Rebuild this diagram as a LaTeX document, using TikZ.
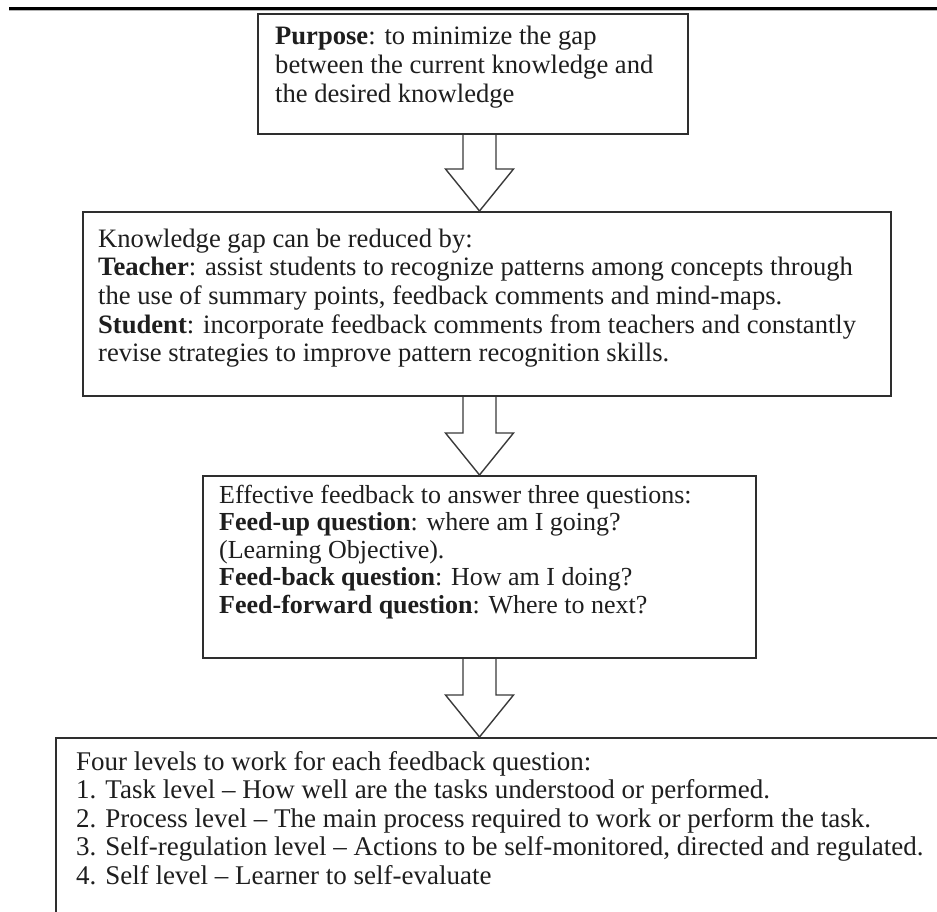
\documentclass[tikz,border=0pt]{standalone}
\usepackage{fontspec}
\setmainfont{Liberation Serif}
\usetikzlibrary{calc}
\definecolor{boxcol}{HTML}{2E2E2E}
\definecolor{arrcol}{HTML}{3A3A3A}
\definecolor{txtcol}{HTML}{1E1E1E}
\newcommand{\boxtext}[3][26.6]{\parbox[t]{900pt}{\fontsize{#1}{#2}\selectfont\raggedright #3}}
\newcommand{\blockarrow}[2]{%
  \draw[barrow] let \p1=(#1.south -| ax), \p2=(#2.north -| ax) in
    (\x1-16.5pt,\y1) -- (\x1-16.5pt,\y2+42pt) -- (\x1-34pt,\y2+42pt) -- (\x2,\y2)
    -- (\x1+34pt,\y2+42pt) -- (\x1+16.5pt,\y2+42pt) -- (\x1+16.5pt,\y1);}
\tikzset{
  box/.style={draw=boxcol, line width=1.8pt, inner sep=0pt, anchor=north west},
  txt/.style={anchor=base west, inner sep=0pt, text=txtcol},
  barrow/.style={draw=arrcol, line width=1.4pt, line join=miter},
}
\begin{document}
\begin{tikzpicture}[x=1pt, y=-1pt]
\useasboundingbox (0,0) rectangle (937,911);
\clip (0,0) rectangle (937,911);
\fill[white] (0,0) rectangle (937,911);
% top rule
\coordinate (tl) at (9,8.5);
\coordinate (tr) at (937,8.5);
\coordinate (gl) at (9,10.8);
\coordinate (gr) at (937,10.8);
\draw[line width=3pt, black] (tl) -- (tr);
\draw[line width=1pt, gray!60] (gl) -- (gr);
\coordinate (ax) at (479.5,0);
% boxes
\node[box, minimum width=430pt, minimum height=120pt] (b1) at (257,13) {};
\node[box, minimum width=808pt, minimum height=184pt] (b2) at (82,211) {};
\node[box, minimum width=553pt, minimum height=182pt] (b3) at (202,475) {};
\node[box, minimum width=920pt, minimum height=220pt] (b4) at (55,737) {};
% texts
\node[txt] (t1) at (275,44) {\boxtext{29}{\textbf{Purpose}: to minimize the gap\\
between the current knowledge and\\
the desired knowledge}};
\node[txt] (t2) at (98,247) {\boxtext{28.7}{Knowledge gap can be reduced by:\\
\textbf{Teacher}: assist students to recognize patterns among concepts through\\
the use of summary points, feedback comments and mind-maps.\\
\textbf{Student}: incorporate feedback comments from teachers and constantly\\
revise strategies to improve pattern recognition skills.}};
\node[txt] (t3) at (219,503) {\boxtext[26]{27.6}{Effective feedback to answer three questions:\\
\textbf{Feed-up question}: where am I going?\\
(Learning Objective).\\
\textbf{Feed-back question}: How am I doing?\\
\textbf{Feed-forward question}: Where to next?}};
\node[txt] (t4) at (76,770) {\boxtext[27]{28.5}{Four levels to work for each feedback question:\\
1. Task level – How well are the tasks understood or performed.\\
2. Process level – The main process required to work or perform the task.\\
3. Self-regulation level – Actions to be self-monitored, directed and regulated.\\
4. Self level – Learner to self-evaluate}};
% block arrows
\blockarrow{b1}{b2}
\blockarrow{b2}{b3}
\blockarrow{b3}{b4}
\end{tikzpicture}
\end{document}
